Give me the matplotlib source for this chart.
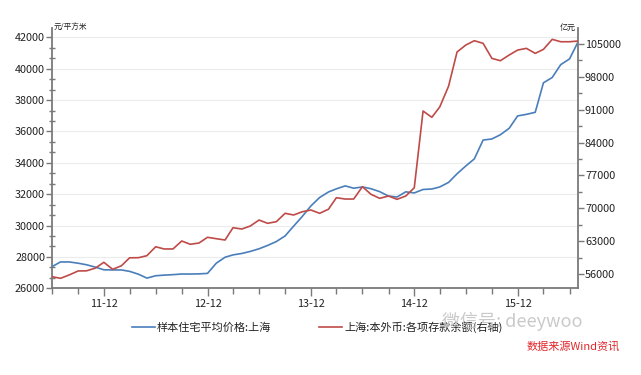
import matplotlib
matplotlib.use("Agg")
import matplotlib.pyplot as plt
import matplotlib.dates as mdates
from matplotlib.ticker import MultipleLocator, FixedLocator
import pandas as pd

plt.rcParams['font.family'] = ['Noto Sans CJK SC', 'DejaVu Sans']

# ---------------- data ----------------
start_month = '2011-06-01'
price = [27380, 27680, 27680, 27600, 27500, 27350, 27180, 27170, 27170, 27080,
         26900, 26650, 26800, 26840, 26870, 26910, 26910, 26920, 26950, 27600,
         27980, 28130, 28220, 28350, 28520, 28730, 28980, 29340, 29960, 30590,
         31250, 31790, 32140, 32340, 32530, 32380, 32460, 32350, 32160, 31880,
         31820, 32150, 32080, 32300, 32330, 32460, 32750, 33300, 33800, 34250,
         35450, 35520, 35790, 36200, 36990, 37090, 37220, 39100, 39440, 40260,
         40620, 41700]
deposits = [55430, 55080, 55800, 56640, 56680, 57250, 58490, 57000, 57750, 59450,
            59470, 59900, 61800, 61330, 61330, 63030, 62330, 62600, 63820, 63520,
            63240, 65860, 65580, 66220, 67500, 66800, 67140, 68930, 68570, 69270,
            69630, 68930, 69800, 72250, 71970, 71970, 74600, 72980, 72120, 72610,
            71910, 72610, 74380, 90720, 89380, 91600, 96000, 103300, 104780, 105700,
            105140, 101940, 101440, 102650, 103710, 104070, 103000, 103860, 105990, 105480,
            105480, 105630]
left_ticks = [26000, 28000, 30000, 32000, 34000, 36000, 38000, 40000, 42000]
right_ticks = [56000, 63000, 70000, 77000, 84000, 91000, 98000, 105000]
x_tick_dates = ['2011-12-01', '2012-12-01', '2013-12-01', '2014-12-01', '2015-12-01']
x_tick_labels = ['11-12', '12-12', '13-12', '14-12', '15-12']
label_price = '样本住宅平均价格:上海'
label_dep = '上海:本外币:各项存款余额(右轴)'
left_unit = '元/平方米'
right_unit = '亿元'
source_text = '数据来源Wind资讯'
watermark = '微信号: deeywoo'

dates = pd.date_range(start_month, periods=len(price), freq='MS')

# ---------------- figure ----------------
W, H = 641, 375
fig = plt.figure(figsize=(W / 100, H / 100), dpi=100)
fig.patch.set_facecolor('white')
ax_l, ax_r, ax_b, ax_t = 52, 578, 288.3, 28
ax = fig.add_axes([ax_l / W, 1 - ax_b / H, (ax_r - ax_l) / W, (ax_b - ax_t) / H])
ax2 = ax.twinx()

blue = '#4a7ebb'
red = '#be4b48'
spine_c = '#7a7a7a'

l1, = ax.plot(dates, price, color=blue, lw=1.2, zorder=3)
l2, = ax2.plot(dates, deposits, color=red, lw=1.2, zorder=3)

ax.set_xlim(dates[0], dates[-1])
ax.set_ylim(26000, 42594)
ax2.set_ylim(52953, 108408)

ax.yaxis.set_major_locator(FixedLocator(left_ticks))
ax.yaxis.set_minor_locator(MultipleLocator(2000 / 3))
ax2.yaxis.set_major_locator(FixedLocator(right_ticks))
ax2.yaxis.set_minor_locator(MultipleLocator(3500))

ax.xaxis.set_major_locator(FixedLocator(mdates.date2num(pd.to_datetime(x_tick_dates))))
ax.set_xticklabels(x_tick_labels)
ax.xaxis.set_minor_locator(mdates.MonthLocator(bymonth=[3, 6, 9, 12]))

ax.grid(axis='y', which='major', color='#ececec', lw=0.8, zorder=0)
ax.set_axisbelow(True)

for a in (ax, ax2):
    for s in a.spines.values():
        s.set_color(spine_c)
        s.set_linewidth(1.3)
    a.spines['top'].set_visible(False)
ax.spines['right'].set_visible(False)
ax2.spines['left'].set_visible(False)
ax2.spines['bottom'].set_visible(False)

tick_fs = 7.8
ax.tick_params(axis='y', which='major', direction='out', length=4, width=1, color=spine_c,
               labelsize=tick_fs, labelcolor='#222222', pad=1)
ax.tick_params(axis='y', which='minor', direction='inout', length=4, width=1, color=spine_c)
ax.tick_params(axis='x', which='major', direction='out', length=6, width=1, color=spine_c,
               labelsize=tick_fs, labelcolor='#222222', pad=2)
ax.tick_params(axis='x', which='minor', direction='out', length=4, width=1, color=spine_c)
ax2.tick_params(axis='y', which='major', direction='out', length=4, width=1, color=spine_c,
                labelsize=tick_fs, labelcolor='#222222', pad=1)
ax2.tick_params(axis='y', which='minor', direction='out', length=3, width=1, color=spine_c)

# units
fig.text(54 / W, 1 - 28 / H, left_unit, fontsize=5.5, color='#222222', ha='left', va='center')
fig.text(576 / W, 1 - 27 / H, right_unit, fontsize=5.8, color='#222222', ha='right', va='center')

# legend
leg = fig.legend([l1, l2], [label_price, label_dep], loc='center left',
                 bbox_to_anchor=(132 / W, 1 - 327 / H), ncol=2, frameon=False,
                 fontsize=8, handlelength=2.05, handletextpad=0.2, columnspacing=4.3,
                 borderpad=0, borderaxespad=0)
for t in leg.get_texts():
    t.set_color('#222222')

# watermark and source
fig.text(442 / W, 1 - 321 / H, watermark, fontsize=13, color='#c4c4c4', ha='left',
         va='center', alpha=0.9, zorder=10)
fig.text(620 / W, 1 - 346 / H, source_text, fontsize=8, color='#e2262b', ha='right',
         va='center', style='italic')

fig.savefig('out.png', dpi=100, facecolor='white')
